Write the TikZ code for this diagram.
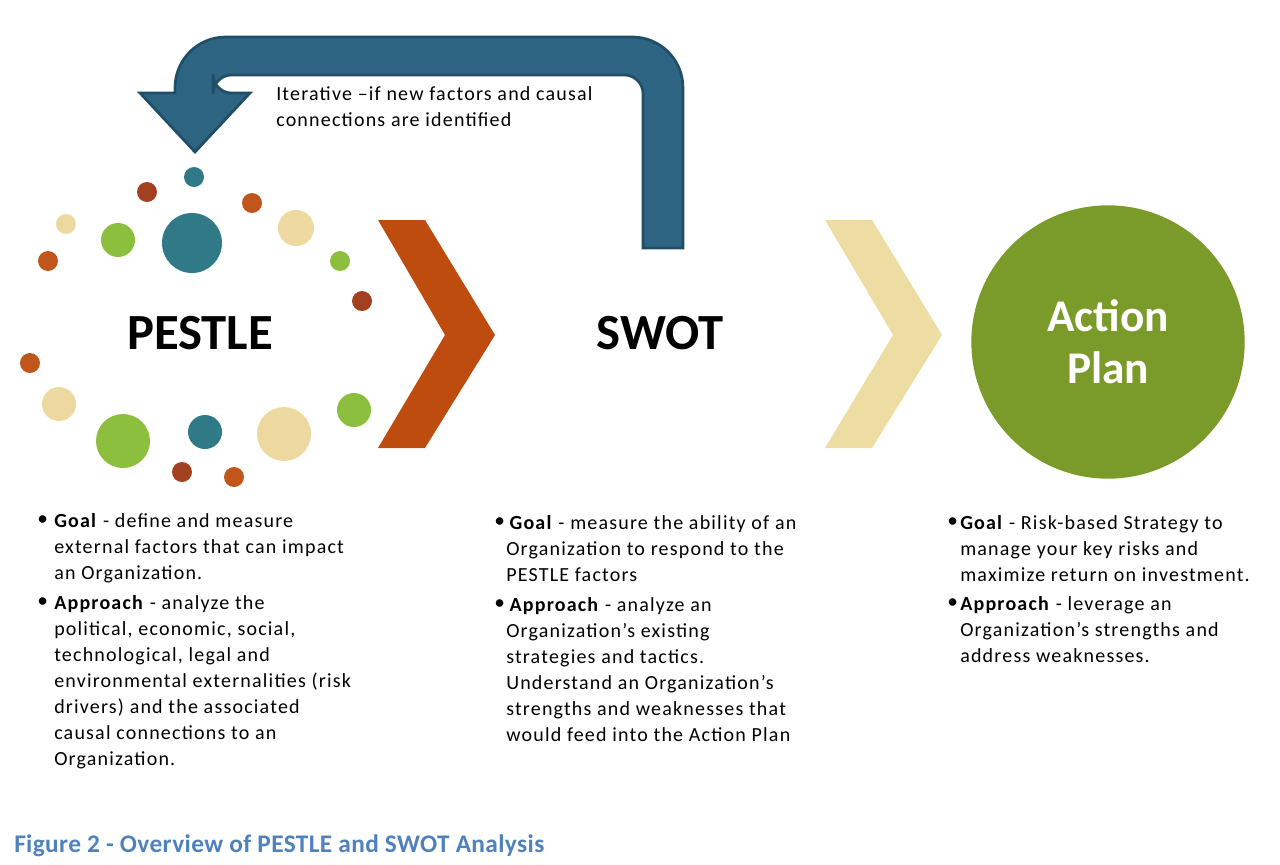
\documentclass[tikz,border=0pt]{standalone}
\usepackage{fontspec}
\setmainfont{Carlito}[LetterSpace=6]
\newfontfamily\titlefont{Carlito}
\newfontfamily\capfont{Carlito}[LetterSpace=1.5]
\begin{document}
\begin{tikzpicture}[x=0.75pt,y=-0.75pt,
  dot/.style={circle,inner sep=0pt,minimum size=#1*1.5pt},
  body/.style={anchor=north west,align=left,inner sep=0pt,font=\fontsize{15}{19.5}\selectfont},
  bul/.style={anchor=north west,inner sep=0pt,font=\fontsize{16}{19.5}\selectfont}]
\definecolor{teal}{HTML}{2F7A86}
\definecolor{brn}{HTML}{A3401F}
\definecolor{org}{HTML}{C0561B}
\definecolor{grn}{HTML}{8DBF3F}
\definecolor{bge}{HTML}{EDD9A0}
\definecolor{arr}{HTML}{2D6482}
\definecolor{arrb}{HTML}{1F4E66}
\definecolor{chev}{HTML}{BE4C0E}
\definecolor{chevy}{HTML}{EEDDA2}
\definecolor{plan}{HTML}{7A9A2A}
\definecolor{cap}{HTML}{4F81BD}
\useasboundingbox (0,0) rectangle (1280,864);
% U-turn arrow
\path[fill=arr,draw=arrb,line width=2pt]
 [rounded corners=14pt] (643,248) -- (643,75) -- (213,75) -- (213,93) [sharp corners] -- (250,93) -- (195,152) -- (140,93) -- (175,93)
 [rounded corners=38pt] -- (175,37) -- (683,37) [sharp corners] -- (683,248) -- cycle;
\node[anchor=north west,align=left,inner sep=0pt,font=\fontsize{15}{20}\selectfont] (it) at (276,86) {Iterative –if new factors and causal\\connections are identified};
% chevrons
\path[fill=chev] (378,220) -- (425,220) -- (495,335) -- (425,448) -- (378,448) -- (445,335) -- cycle;
\path[fill=chevy] (825,220) -- (872,220) -- (942,335) -- (872,448) -- (825,448) -- (893,335) -- cycle;
% dots
\foreach \x/\y/\r/\c [count=\i] in {194/177/10/teal,147/192/10/brn,252/203/10/org,66/224/10/bge,118/240/17/grn,192/243/30/teal,296/228/18/bge,48/261/10/org,340/261/10/grn,362/301/10/brn,30/363/10/org,59/404/17/bge,354/410/17/grn,123/441/27/grn,205/432/17/teal,284/434/27/bge,182/472/10/brn,234/477/10/org}
  \node[dot=\r,fill=\c] (d\i) at (\x,\y) {};
\node[font=\titlefont\bfseries\fontsize{38}{38}\selectfont] (pestle) at (200,333) {PESTLE};
\node[font=\titlefont\bfseries\fontsize{38}{38}\selectfont] (swot) at (660,333) {SWOT};
\node[circle,fill=plan,minimum size=205pt,inner sep=0pt] (ap) at (1108,342) {};
\node[text=white,align=center,font=\titlefont\bfseries\fontsize{34}{39}\selectfont] (apt) at (1108,342) {Action\\Plan};
% PESTLE text
\node[bul] (b1) at (37,515) {\textbullet};
\node[body] (t1) at (54,513) {\textbf{Goal} - define and measure\\external factors that can impact\\an Organization.};
\node[bul] (b2) at (37,597) {\textbullet};
\node[body] (t2) at (54,595) {\textbf{Approach} - analyze the\\political, economic, social,\\technological, legal and\\environmental externalities (risk\\drivers) and the associated\\causal connections to an\\Organization.};
% SWOT text
\node[bul] (b3) at (494,517) {\textbullet};
\node[body] (t3) at (506,515) {\,\textbf{Goal} - measure the ability of an\\Organization to respond to the\\PESTLE factors};
\node[bul] (b4) at (494,599) {\textbullet};
\node[body] (t4) at (506,597) {\,\textbf{Approach} - analyze an\\Organization's existing\\strategies and tactics.\\Understand an Organization’s\\strengths and weaknesses that\\would feed into the Action Plan};
% Action plan text
\node[bul] (b5) at (947,517) {\textbullet};
\node[body] (t5) at (960,515) {\textbf{Goal} - Risk-based Strategy to\\manage your key risks and\\maximize return on investment.};
\node[bul] (b6) at (947,598) {\textbullet};
\node[body] (t6) at (960,596) {\textbf{Approach} - leverage an\\Organization's strengths and\\address weaknesses.};
\node[anchor=west,inner sep=0pt,text=cap,font=\capfont\bfseries\fontsize{19}{22}\selectfont] (capt) at (14,846) {Figure 2 - Overview of PESTLE and SWOT Analysis};
\end{tikzpicture}
\end{document}
